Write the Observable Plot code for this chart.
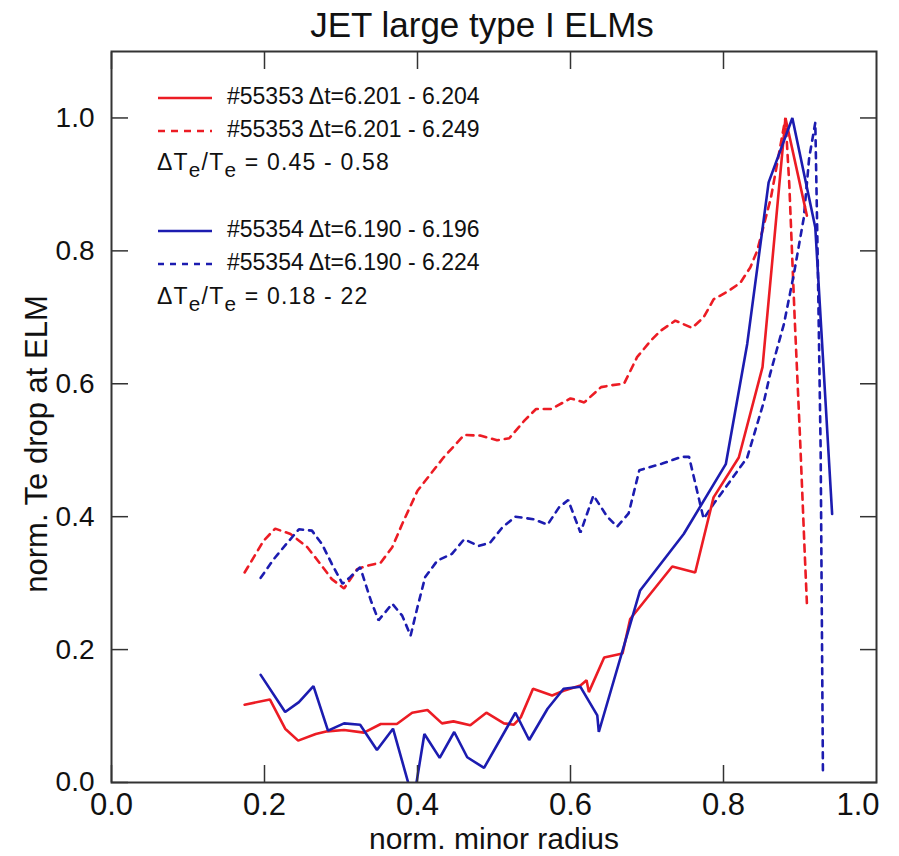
<!DOCTYPE html>
<html><head><meta charset="utf-8">
<script src="https://cdn.jsdelivr.net/npm/d3@7"></script>
<script src="https://cdn.jsdelivr.net/npm/@observablehq/plot@0.6"></script>
<style>
body{margin:0;background:#fff;}
#wrap{position:relative;width:899px;height:856px;}
#legend{position:absolute;left:157px;top:80px;font-family:"Liberation Sans",Arial,sans-serif;font-size:23px;color:#111;}
.row{position:absolute;left:0;white-space:nowrap;height:33px;line-height:33px;}
.row svg{vertical-align:middle;margin-right:14px;}
.ratio{letter-spacing:1.2px;}
sub{font-size:90%;vertical-align:-7px;line-height:0;}
</style></head><body><div id="wrap"></div>
<script>
// tick values
const xTicks = [0, 0.2, 0.4, 0.6, 0.8];
const xTickLast = [1.0];
const yTicks = [0, 0.2, 0.4, 0.6, 0.8, 1.0];

// #55353 Δt=6.201 - 6.204 (red solid)
const red55353short = [[0.174,0.117],[0.207,0.125],[0.227,0.081],[0.244,0.063],[0.267,0.073],[0.282,0.077],[0.304,0.079],[0.330,0.075],[0.352,0.088],[0.373,0.088],[0.393,0.105],[0.413,0.109],[0.432,0.089],[0.447,0.092],[0.469,0.086],[0.490,0.105],[0.513,0.089],[0.526,0.087],[0.535,0.098],[0.551,0.141],[0.576,0.131],[0.591,0.138],[0.613,0.146],[0.621,0.154],[0.624,0.136],[0.644,0.188],[0.668,0.194],[0.678,0.246],[0.733,0.325],[0.763,0.316],[0.787,0.429],[0.820,0.489],[0.851,0.625],[0.881,1.0],[0.909,0.853]];

// #55353 Δt=6.201 - 6.249 (red dashed)
const red55353long = [[0.174,0.316],[0.199,0.364],[0.214,0.382],[0.234,0.374],[0.256,0.354],[0.273,0.329],[0.288,0.306],[0.304,0.292],[0.321,0.321],[0.334,0.326],[0.352,0.331],[0.367,0.354],[0.380,0.389],[0.400,0.439],[0.417,0.464],[0.434,0.489],[0.461,0.523],[0.482,0.522],[0.504,0.515],[0.520,0.518],[0.540,0.545],[0.555,0.562],[0.575,0.562],[0.600,0.578],[0.618,0.572],[0.640,0.595],[0.655,0.598],[0.670,0.600],[0.687,0.640],[0.705,0.665],[0.718,0.680],[0.737,0.695],[0.759,0.684],[0.774,0.700],[0.787,0.727],[0.807,0.740],[0.822,0.752],[0.835,0.775],[0.844,0.800],[0.862,0.880],[0.881,1.0],[0.886,0.90],[0.893,0.70],[0.900,0.52],[0.906,0.35],[0.909,0.27]];

// #55354 Δt=6.190 - 6.196 (blue solid)
const blue55354short = [[0.195,0.162],[0.227,0.106],[0.245,0.121],[0.264,0.145],[0.283,0.078],[0.304,0.089],[0.325,0.087],[0.347,0.049],[0.368,0.081],[0.389,-0.005],[0.398,-0.005],[0.409,0.073],[0.429,0.037],[0.448,0.076],[0.465,0.038],[0.487,0.022],[0.528,0.105],[0.546,0.064],[0.570,0.111],[0.591,0.141],[0.613,0.144],[0.635,0.101],[0.637,0.076],[0.691,0.289],[0.748,0.374],[0.803,0.479],[0.831,0.660],[0.859,0.903],[0.890,1.0],[0.920,0.835],[0.942,0.404]];

// #55354 Δt=6.190 - 6.224 (blue dashed)
const blue55354long = [[0.195,0.308],[0.212,0.336],[0.230,0.361],[0.245,0.381],[0.262,0.379],[0.275,0.359],[0.288,0.329],[0.302,0.299],[0.312,0.309],[0.325,0.324],[0.339,0.274],[0.349,0.244],[0.367,0.269],[0.380,0.251],[0.391,0.221],[0.400,0.264],[0.410,0.309],[0.426,0.334],[0.445,0.344],[0.461,0.366],[0.480,0.356],[0.495,0.361],[0.511,0.384],[0.528,0.400],[0.552,0.396],[0.570,0.388],[0.585,0.414],[0.597,0.425],[0.613,0.376],[0.630,0.432],[0.648,0.400],[0.661,0.385],[0.676,0.405],[0.690,0.470],[0.720,0.480],[0.745,0.490],[0.755,0.490],[0.774,0.397],[0.787,0.419],[0.809,0.454],[0.831,0.489],[0.853,0.574],[0.861,0.615],[0.879,0.690],[0.892,0.765],[0.905,0.850],[0.912,0.940],[0.920,0.993],[0.923,0.80],[0.927,0.50],[0.930,0.013]];

const legendLabels = ["#55353 \u0394t=6.201 - 6.204", "#55353 \u0394t=6.201 - 6.249", "#55354 \u0394t=6.190 - 6.196", "#55354 \u0394t=6.190 - 6.224"];
const ratioLabels = ["0.45 - 0.58", "0.18 - 22"];

const RED = "#ec1c24", BLUE = "#1c1cb0";
const REG = "'Liberation Sans',Arial,sans-serif";
const fmt = d3.format(".1f");

const lineOpts = (stroke, dash) => ({x: d => d[0], y: d => d[1], stroke, strokeWidth: 2.6, strokeDasharray: dash, clip: true, strokeLinejoin: "miter"});

const chart = Plot.plot({
  width: 899, height: 856,
  marginLeft: 111, marginRight: 23, marginTop: 51, marginBottom: 74,
  x: {domain: [0, 1]},
  y: {domain: [0, 1.1]},
  style: {background: "white", color: "#111", overflow: "visible", fontFamily: REG},
  marks: [
    Plot.line(red55353long, lineOpts(RED, "7,6")),
    Plot.line(blue55354long, lineOpts(BLUE, "6,6")),
    Plot.line(red55353short, lineOpts(RED, null)),
    Plot.line(blue55354short, lineOpts(BLUE, null)),
    Plot.frame({stroke: "#333", strokeWidth: 2}),
    Plot.axisX({anchor: "bottom", ticks: xTicks, tickSize: -17, tickPadding: 27, tickFormat: fmt, fontSize: 31, label: null, stroke: "#333", strokeWidth: 1.5}),
    Plot.axisX({anchor: "bottom", ticks: xTickLast, tickSize: 0, tickPadding: 10, tickFormat: fmt, fontSize: 31, textAnchor: "end", dx: 3, label: null}),
    Plot.axisX({anchor: "top", ticks: xTicks, tickSize: -17, tickFormat: () => "", label: null, stroke: "#333", strokeWidth: 1.5}),
    Plot.axisY({anchor: "left", ticks: yTicks, tickSize: -17, tickPadding: 34, tickFormat: fmt, fontSize: 28, label: null, stroke: "#333", strokeWidth: 1.5}),
    Plot.axisY({anchor: "right", ticks: yTicks, tickSize: -17, tickFormat: () => "", label: null, stroke: "#333", strokeWidth: 1.5}),
    Plot.text(["JET large type I ELMs"], {text: d => d, frameAnchor: "top", dx: -12, dy: -26, fontSize: 35, lineAnchor: "middle", fill: "#111"}),
    Plot.text(["norm. minor radius"], {text: d => d, frameAnchor: "bottom", dy: 57, fontSize: 30, lineAnchor: "middle", fill: "#111"}),
    Plot.text(["norm. Te drop at ELM"], {text: d => d, frameAnchor: "left", textAnchor: "middle", dx: -74, dy: 27, rotate: -90, fontSize: 31, lineAnchor: "middle", fill: "#111"})
  ]
});
const wrap = document.getElementById("wrap");
wrap.appendChild(chart);

// legend overlay
const legend = document.createElement("div");
legend.id = "legend";
const sample = (color, dash) => `<svg width="56" height="10"><line x1="1" y1="5" x2="55" y2="5" stroke="${color}" stroke-width="2.6" ${dash ? `stroke-dasharray="${dash}"` : ""}/></svg>`;
const rows = [
  {top: 0, html: sample(RED, null) + legendLabels[0]},
  {top: 33, html: sample(RED, "7,6") + legendLabels[1]},
  {top: 66, cls: "ratio", html: "\u0394T<sub>e</sub>/T<sub>e</sub> = " + ratioLabels[0]},
  {top: 133, html: sample(BLUE, null) + legendLabels[2]},
  {top: 166, html: sample(BLUE, "6,6") + legendLabels[3]},
  {top: 200, cls: "ratio", html: "\u0394T<sub>e</sub>/T<sub>e</sub> = " + ratioLabels[1]}
];
legend.innerHTML = rows.map(r => `<div class="row ${r.cls || ""}" style="top:${r.top}px">${r.html}</div>`).join("");
wrap.appendChild(legend);
</script></body></html>
